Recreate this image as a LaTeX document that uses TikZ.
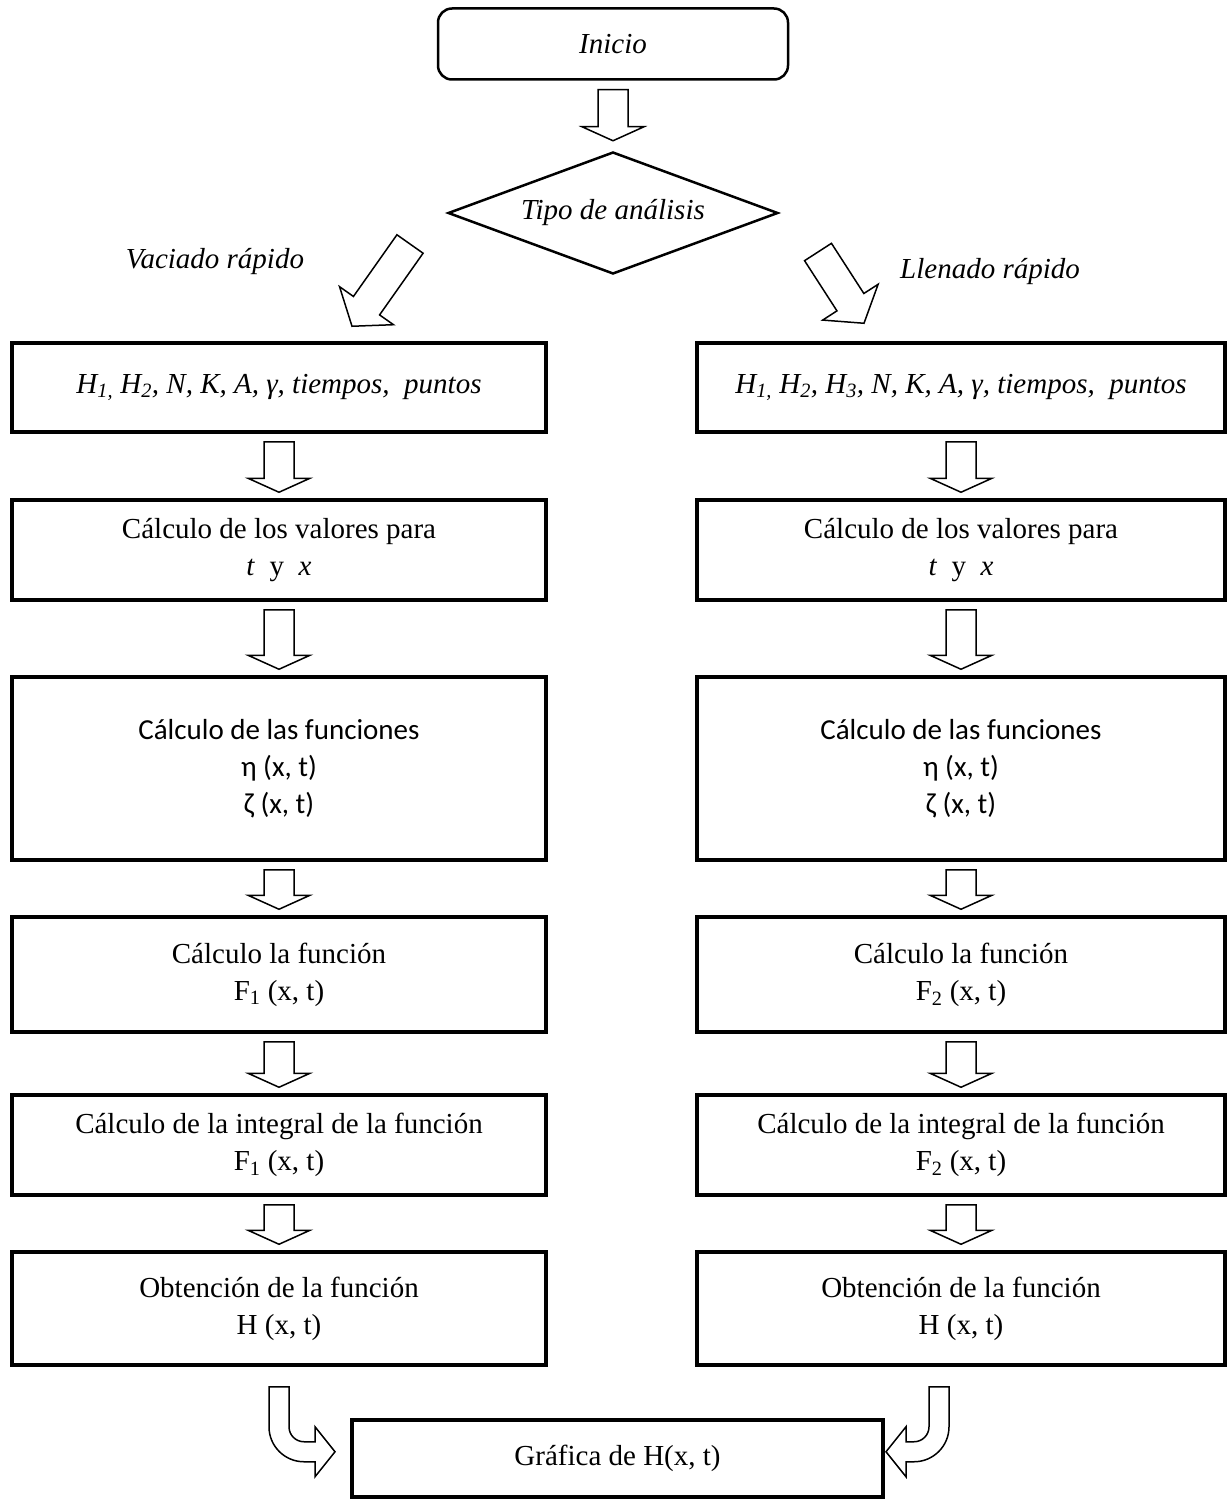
\documentclass[tikz,border=0pt]{standalone}
\usepackage{fontspec}
\setmainfont{Liberation Serif}
\newfontfamily\calibri{Carlito}
\usetikzlibrary{positioning, shapes.geometric, calc}

\begin{document}
\begin{tikzpicture}[
  x=1pt, y=1pt,
  font=\fontsize{29}{37}\selectfont,
  box/.style={draw, line width=3.5pt, minimum height=100pt, align=center, inner sep=4pt},
  lbox/.style={box, minimum width=534pt},
  rbox/.style={box, minimum width=528pt},
  hollow/.style={draw, fill=white, line width=1.5pt, line join=miter},
  blockarr/.style n args={3}{hollow, to path={
    let \p1=(\tikztostart), \p2=(\tikztotarget),
        \n1={atan2(\y2-\y1,\x2-\x1)}, \n2={veclen(\x2-\x1,\y2-\y1)-#3} in
    ($(\p1)+(\n1+90:#1)$) -- ($(\p1)+(\n1:\n2)+(\n1+90:#1)$)
    -- ($(\p1)+(\n1:\n2)+(\n1+90:#2)$) -- (\p2)
    -- ($(\p1)+(\n1:\n2)+(\n1-90:#2)$) -- ($(\p1)+(\n1:\n2)+(\n1-90:#1)$)
    -- ($(\p1)+(\n1-90:#1)$) -- cycle}}
]
  \useasboundingbox (0,0) rectangle (1227,-1501);

  \node[draw, line width=2.5pt, rounded corners=14pt, minimum width=350pt, minimum height=71pt] (inicio) at (613,-44) {\textit{Inicio}};
  \node[draw, diamond, line width=2.5pt, aspect=2.7, inner sep=0pt, minimum width=330pt, minimum height=122pt] (tipo) at (613,-213) {\textit{Tipo de análisis}};
  \node (vac) at (215,-262) {\textit{Vaciado rápido}};
  \node (llen) at (990,-272) {\textit{Llenado rápido}};

  % vaciado rapido
  \node[lbox, minimum height=89pt] (V1) at (279,-387.5) {\textit{H\textsubscript{1,} H\textsubscript{2}, N, K, A, γ, tiempos, \ puntos}};
  \node[lbox, below=64.5pt of V1] (V2) {Cálculo de los valores para\\ \textit{t}\ \ y\ \ \textit{x}};
  \node[lbox, minimum height=183pt, below=73.5pt of V2, font=\calibri\fontsize{29}{37}\selectfont] (V3) {Cálculo de las funciones\\ η (x, t)\\ ζ (x, t)};
  \node[lbox, minimum height=115pt, below=53.5pt of V3] (V4) {Cálculo la función\\ F\textsubscript{1} (x, t)};
  \node[lbox, below=59.5pt of V4] (V5) {Cálculo de la integral de la función\\ F\textsubscript{1} (x, t)};
  \node[lbox, minimum height=113pt, below=53.5pt of V5] (V6) {Obtención de la función\\ H (x, t)};

  % llenado rapido
  \node[rbox, minimum height=89pt] (L1) at (961,-387.5) {\textit{H\textsubscript{1,} H\textsubscript{2}, H\textsubscript{3}, N, K, A, γ, tiempos, \ puntos}};
  \node[rbox, below=64.5pt of L1] (L2) {Cálculo de los valores para\\ \textit{t}\ \ y\ \ \textit{x}};
  \node[rbox, minimum height=183pt, below=73.5pt of L2, font=\calibri\fontsize{29}{37}\selectfont] (L3) {Cálculo de las funciones\\ η (x, t)\\ ζ (x, t)};
  \node[rbox, minimum height=115pt, below=53.5pt of L3] (L4) {Cálculo la función\\ F\textsubscript{2} (x, t)};
  \node[rbox, below=59.5pt of L4] (L5) {Cálculo de la integral de la función\\ F\textsubscript{2} (x, t)};
  \node[rbox, minimum height=113pt, below=53.5pt of L5] (L6) {Obtención de la función\\ H (x, t)};

  \node[box, minimum width=531pt, minimum height=77pt] (graf) at (617.5,-1458.5) {Gráfica de H(x, t)};

  \draw[blockarr={15pt}{31pt}{14pt}] ([yshift=-9pt]inicio.south) to ([yshift=10pt]tipo.north);
  \draw[blockarr={16pt}{33pt}{25pt}] ([shift={(-203,-31)}]tipo.center) to ([shift={(73,15)}]V1.north);
  \draw[blockarr={16pt}{33pt}{25pt}] ([shift={(205,-39)}]tipo.center) to ([shift={(-97,18)}]L1.north);

  \foreach \c in {V,L}
    \foreach \i/\j in {1/2,2/3,3/4,4/5,5/6}
      \draw[blockarr={15pt}{31pt}{14pt}] ([yshift=-8pt]\c\i.south) to ([yshift=6pt]\c\j.north);

  % curved arrows into the last box
  \draw[hollow] ([xshift=-10pt,yshift=-20pt]V6.south) -- ++(20,0) -- ++(0,-40)
    arc[start angle=180, end angle=270, radius=15pt] -- ++(11,0) -- ++(0,15) -- ++(20,-25)
    -- ++(-20,-25) -- ++(0,15) -- ++(-11,0) arc[start angle=270, end angle=180, radius=35pt] -- cycle;
  \draw[hollow] ([xshift=-12pt,yshift=-20pt]L6.south) -- ++(-20,0) -- ++(0,-40)
    arc[start angle=0, end angle=-90, radius=15pt] -- ++(-8,0) -- ++(0,15) -- ++(-20,-25)
    -- ++(20,-25) -- ++(0,15) -- ++(8,0) arc[start angle=-90, end angle=0, radius=35pt] -- cycle;
\end{tikzpicture}
\end{document}
